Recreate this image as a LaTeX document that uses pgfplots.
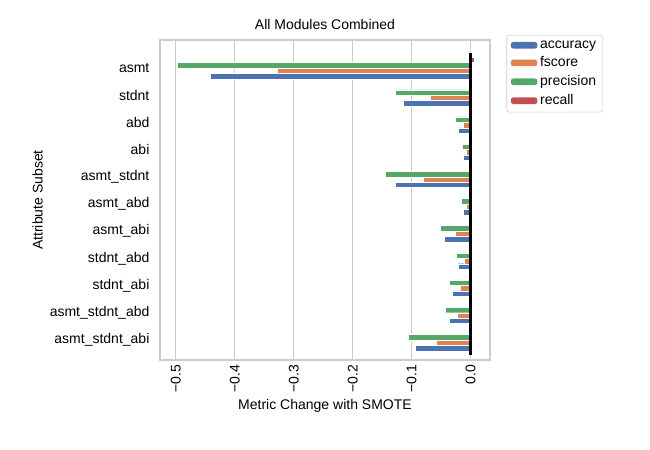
\documentclass[border=0pt]{standalone}
\usepackage{pgfplots}
\pgfplotsset{compat=1.18}
\usepackage{fontspec}
\setmainfont{Liberation Sans}
\definecolor{cA}{HTML}{4C72B0}
\definecolor{cF}{HTML}{DD8452}
\definecolor{cP}{HTML}{55A868}
\definecolor{cR}{HTML}{C44E52}
\definecolor{gridc}{HTML}{CCCCCC}
\begin{document}
\fontsize{10.5}{12}\selectfont
\begin{tikzpicture}
\useasboundingbox (0,0) rectangle (487.5pt,337.5pt);
\begin{axis}[
  at={(120pt,67.5pt)}, anchor=south west, scale only axis,
  width=247.5pt, height=240pt,
  xmin=-0.527, xmax=0.033, ymin=-1.03, ymax=10.74, y dir=reverse,
  xtick={-0.5,-0.4,-0.3,-0.2,-0.1,0},
  xticklabels={−0.5,−0.4,−0.3,−0.2,−0.1,0.0},
  x tick label style={rotate=90, anchor=east},
  ytick={0,...,10},
  yticklabels={asmt,stdnt,abd,abi,asmt\_stdnt,asmt\_abd,asmt\_abi,stdnt\_abd,stdnt\_abi,asmt\_stdnt\_abd,asmt\_stdnt\_abi},
  tick style={draw=none},
  xmajorgrids, grid style={gridc, line width=0.8pt},
  axis line style={gridc, line width=0.8pt},
  title={All Modules Combined},
  title style={yshift=-2pt},
  xlabel={Metric Change with SMOTE},
  xlabel style={yshift=2pt},
  ylabel={Attribute Subset},
  ylabel style={yshift=-2pt},
  /pgf/number format/assume math mode=true,
  xbar, bar width=4.1pt,
  legend style={at={(1.05,1.016)}, anchor=north west, draw=gridc, rounded corners=2pt, font=\fontsize{10.5}{12}\selectfont, row sep=1pt},
  legend cell align=left,
  legend image code/.code={\fill[#1,draw=none] (0pt,-2.5pt) rectangle (20pt,2.5pt);},
]
\addplot[fill=cA, draw=white, line width=0.3pt, bar shift=-6.1pt] coordinates {(-0.442,0) (-0.114,1) (-0.021,2) (-0.0125,3) (-0.128,4) (-0.0125,5) (-0.045,6) (-0.021,7) (-0.031,8) (-0.036,9) (-0.094,10)};
\addplot[fill=cF, draw=white, line width=0.3pt, bar shift=-2.03pt] coordinates {(-0.328,0) (-0.069,1) (-0.0125,2) (-0.007,3) (-0.080,4) (-0.007,5) (-0.026,6) (-0.011,7) (-0.017,8) (-0.022,9) (-0.058,10)};
\addplot[fill=cP, draw=white, line width=0.3pt, bar shift=2.03pt] coordinates {(-0.498,0) (-0.128,1) (-0.026,2) (-0.014,3) (-0.145,4) (-0.016,5) (-0.051,6) (-0.024,7) (-0.036,8) (-0.043,9) (-0.106,10)};
\addplot[fill=cR, draw=white, line width=0.3pt, bar shift=6.1pt] coordinates {(0.006,0) (0,1) (0,2) (0,3) (0,4) (0,5) (0,6) (0,7) (0,8) (0,9) (0,10)};
\legend{accuracy,fscore,precision,recall}
\draw[black, line width=2pt] (axis cs:0,-0.55) -- (axis cs:0,10.55);
\end{axis}
\end{tikzpicture}
\end{document}
